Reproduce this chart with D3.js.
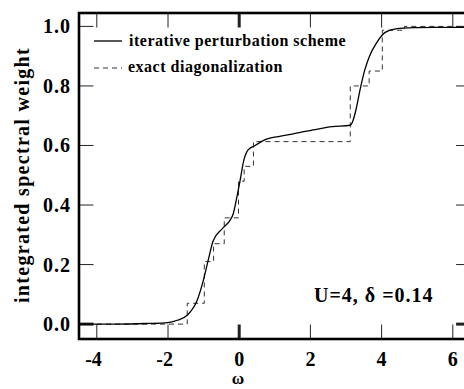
<!DOCTYPE html>
<html>
<head>
<meta charset="utf-8">
<script src="https://cdn.jsdelivr.net/npm/d3@7"></script>
<style>
  body { margin: 0; background: #fff; }
  text { font-family: "Liberation Serif", "Times New Roman", serif; font-weight: bold; fill: #000; }
</style>
</head>
<body>
<script>
// exact diagonalization: step heights (step starts at omega)
const edOmega  = [-4.5, -1.46, -0.98, -0.72, -0.42, -0.02, 0.14, 0.40, 3.12, 3.65, 4.02, 4.64, 6.5];
const edWeight = [0.0, 0.07, 0.21, 0.27, 0.357, 0.48, 0.53, 0.613, 0.80, 0.85, 0.987, 1.0, 1.0];

// iterative perturbation scheme curve
const iptOmega  = [-4.5, -3.5, -2.6, -2.2, -2.0, -1.74, -1.46, -1.18, -1.0, -0.87, -0.73, -0.48, -0.25, -0.17, -0.06, 0.03, 0.11, 0.25, 0.45, 0.73, 1.2, 1.69, 2.2, 2.61, 3.12, 3.2, 3.28, 3.40, 3.53, 3.66, 3.85, 4.1, 4.4, 5.0, 5.5, 6.5];
const iptWeight = [0.0, 0.0, 0.002, 0.003, 0.005, 0.013, 0.03, 0.08, 0.15, 0.215, 0.28, 0.32, 0.35, 0.37, 0.43, 0.485, 0.54, 0.585, 0.60, 0.62, 0.632, 0.643, 0.655, 0.663, 0.668, 0.685, 0.72, 0.79, 0.855, 0.90, 0.943, 0.98, 0.992, 0.996, 0.997, 0.997];

const xTicks = [-4, -2, 0, 2, 4, 6];
const yTicks = [0.0, 0.2, 0.4, 0.6, 0.8, 1.0];

function main() {
    const W = 464, H = 389;
    const left = 79, right = 470.6, top = 13, bottom = 339;
    const tickLen = 14.5;

    const svg = d3.select("body").append("svg")
        .attr("width", W)
        .attr("height", H);

    const x = d3.scaleLinear().domain([-4.5, 6.5]).range([left, right]);
    const y = d3.scaleLinear().domain([-0.05, 1.045]).range([bottom, top]);

    // ticks (inward, all four sides)
    const tk = svg.append("g").attr("stroke", "#222");
    xTicks.forEach(t => {
        const w = t === 0 ? 3 : 1;
        tk.append("line").attr("x1", x(t)).attr("x2", x(t)).attr("y1", bottom).attr("y2", bottom - tickLen).attr("stroke-width", w);
        tk.append("line").attr("x1", x(t)).attr("x2", x(t)).attr("y1", top).attr("y2", top + tickLen).attr("stroke-width", w);
    });
    yTicks.forEach(t => {
        const w = t === 0 ? 3 : 1;
        tk.append("line").attr("y1", y(t)).attr("y2", y(t)).attr("x1", left).attr("x2", left + tickLen).attr("stroke-width", w);
        tk.append("line").attr("y1", y(t)).attr("y2", y(t)).attr("x1", right).attr("x2", right - tickLen).attr("stroke-width", w);
    });

    // frame
    svg.append("rect")
        .attr("x", left).attr("y", top)
        .attr("width", right - left).attr("height", bottom - top)
        .attr("fill", "none").attr("stroke", "#000").attr("stroke-width", 2.6);

    // tick labels
    svg.append("g").selectAll("text").data(xTicks).join("text")
        .attr("x", d => d < 0 ? x(d) + 5 : x(d))
        .attr("y", 366)
        .attr("text-anchor", d => d < 0 ? "end" : "middle")
        .attr("font-size", 20)
        .text(d => d);

    svg.append("g").selectAll("text").data(yTicks).join("text")
        .attr("x", 71)
        .attr("y", d => y(d) + 7)
        .attr("text-anchor", "end")
        .attr("font-size", 20)
        .attr("letter-spacing", 1)
        .text(d => d.toFixed(1));

    // axis titles
    svg.append("text")
        .attr("transform", "translate(29,175) rotate(-90)")
        .attr("text-anchor", "middle")
        .attr("font-size", 20)
        .attr("letter-spacing", 1.3)
        .text("integrated spectral weight");

    svg.append("text")
        .attr("x", 238).attr("y", 384)
        .attr("text-anchor", "middle")
        .attr("font-size", 17)
        .text("ω");

    // step data
    const edData = edOmega.map((o, i) => [o, edWeight[i]]);
    svg.append("path")
        .datum(edData)
        .attr("fill", "none")
        .attr("stroke", "#333")
        .attr("stroke-width", 1)
        .attr("stroke-dasharray", "5,4")
        .attr("d", d3.line().x(d => x(d[0])).y(d => y(d[1])).curve(d3.curveStepAfter));

    const iptData = iptOmega.map((o, i) => [o, iptWeight[i]]);
    svg.append("path")
        .datum(iptData)
        .attr("fill", "none")
        .attr("stroke", "#000")
        .attr("stroke-width", 1.3)
        .attr("d", d3.line().x(d => x(d[0])).y(d => y(d[1])).curve(d3.curveMonotoneX));

    // legend
    const lg = svg.append("g");
    lg.append("line").attr("x1", 94).attr("x2", 122).attr("y1", 41).attr("y2", 41)
        .attr("stroke", "#000").attr("stroke-width", 1.3);
    lg.append("text").attr("x", 129).attr("y", 46).attr("font-size", 16).attr("letter-spacing", 0.5)
        .text("iterative perturbation scheme");
    lg.append("line").attr("x1", 94).attr("x2", 122).attr("y1", 68).attr("y2", 68)
        .attr("stroke", "#333").attr("stroke-width", 1).attr("stroke-dasharray", "5,4");
    lg.append("text").attr("x", 128).attr("y", 72).attr("font-size", 16).attr("letter-spacing", 0.5)
        .text("exact diagonalization");

    svg.append("text")
        .attr("x", 314).attr("y", 302)
        .attr("font-size", 20)
        .attr("letter-spacing", 1)
        .text("U=4, δ =0.14");
}
main();
</script>
</body>
</html>
